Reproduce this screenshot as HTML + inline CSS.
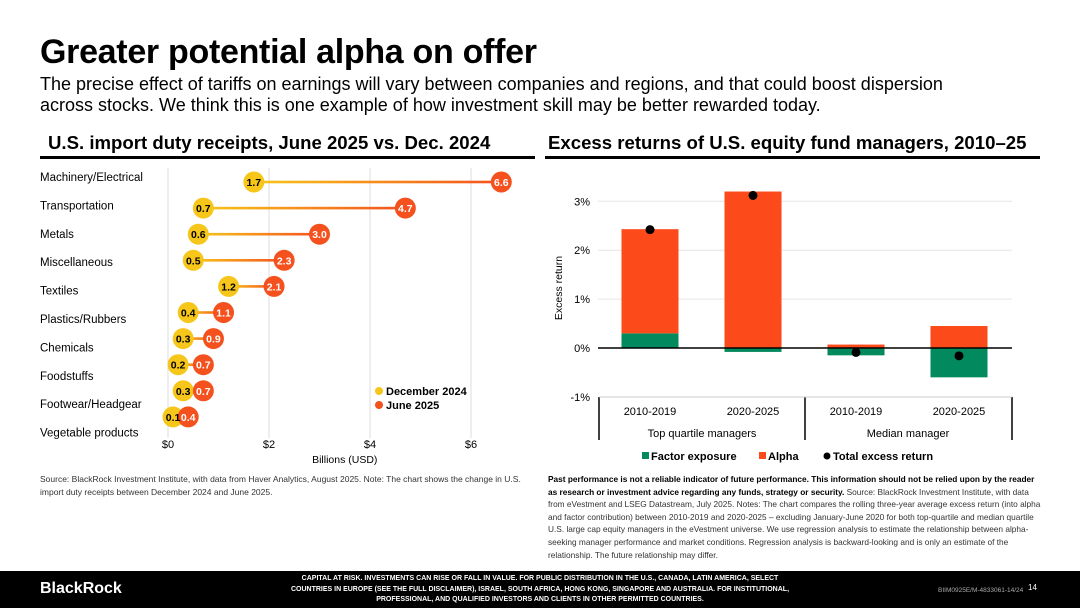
<!DOCTYPE html>
<html><head><meta charset="utf-8"><style>
body{margin:0;width:1080px;height:608px;overflow:hidden;background:#fff;font-family:"Liberation Sans",sans-serif;color:#000;position:relative}
.a{position:absolute;white-space:nowrap}
</style></head><body>
<div class="a" style="left:40px;top:33px;font-size:34px;font-weight:bold;letter-spacing:-0.3px">Greater potential alpha on offer</div>
<div class="a" style="left:40px;top:74px;font-size:18px;line-height:21px;white-space:normal;width:945px">The precise effect of tariffs on earnings will vary between companies and regions, and that could boost dispersion across stocks. We think this is one example of how investment skill may be better rewarded today.</div>
<div class="a" style="left:48px;top:132px;font-size:18.6px;font-weight:bold">U.S. import duty receipts, June 2025 vs. Dec. 2024</div>
<div class="a" style="left:40px;top:156px;width:495px;height:3px;background:#000"></div>
<div class="a" style="left:548px;top:132px;font-size:18.6px;font-weight:bold">Excess returns of U.S. equity fund managers, 2010–25</div>
<div class="a" style="left:545px;top:156px;width:495px;height:3px;background:#000"></div>

<svg class="a" style="left:0;top:0" width="1080" height="608">
<defs id="defs"></defs>
<g id="left"></g><g id="right"></g>
</svg>

<div class="a" style="left:40px;top:473px;font-size:8.5px;line-height:13px;color:#333;white-space:normal;width:500px">Source: BlackRock Investment Institute, with data from Haver Analytics, August 2025. Note: The chart shows the change in U.S. import duty receipts between December 2024 and June 2025.</div>
<div class="a" style="left:548px;top:473px;font-size:8.3px;line-height:12.6px;color:#333;white-space:normal;width:495px"><b style="color:#000">Past performance is not a reliable indicator of future performance. This information should not be relied upon by the reader as research or investment advice regarding any funds, strategy or security.</b> Source: BlackRock Investment Institute, with data from eVestment and LSEG Datastream, July 2025. Notes: The chart compares the rolling three-year average excess return (into alpha and factor contribution) between 2010-2019 and 2020-2025 – excluding January-June 2020 for both top-quartile and median quartile U.S. large cap equity managers in the eVestment universe. We use regression analysis to estimate the relationship between alpha-seeking manager performance and market conditions. Regression analysis is backward-looking and is only an estimate of the relationship. The future relationship may differ.</div>
<div class="a" style="left:0;top:571px;width:1080px;height:37px;background:#000"></div>
<div class="a" style="left:40px;top:580px;color:#fff;font-size:16px;font-weight:bold">BlackRock</div>
<div class="a" style="left:290px;top:574px;width:500px;color:#fff;font-size:7px;line-height:10.5px;font-weight:bold;text-align:center;white-space:normal">CAPITAL AT RISK. INVESTMENTS CAN RISE OR FALL IN VALUE. FOR PUBLIC DISTRIBUTION IN THE U.S., CANADA, LATIN AMERICA, SELECT COUNTRIES IN EUROPE (SEE THE FULL DISCLAIMER), ISRAEL, SOUTH AFRICA, HONG KONG, SINGAPORE AND AUSTRALIA. FOR INSTITUTIONAL, PROFESSIONAL, AND QUALIFIED INVESTORS AND CLIENTS IN OTHER PERMITTED COUNTRIES.</div>
<div class="a" style="left:938px;top:587px;color:#aaa;font-size:6.5px">BIIM0925E/M-4833061-14/24</div>
<div class="a" style="left:1028px;top:583px;color:#fff;font-size:8px">14</div>

<script>
const NS="http://www.w3.org/2000/svg";
function mk(p,t,a,txt){const e=document.createElementNS(NS,t);for(const k in a)e.setAttribute(k,a[k]);if(txt!==undefined)e.textContent=txt;p.appendChild(e);return e;}
// Left chart data
const cats=["Machinery/Electrical","Transportation","Metals","Miscellaneous","Textiles","Plastics/Rubbers","Chemicals","Foodstuffs","Footwear/Headgear","Vegetable products"];
const dec2024=[1.7,0.7,0.6,0.5,1.2,0.4,0.3,0.2,0.3,0.1];
const jun2025=[6.6,4.7,3.0,2.3,2.1,1.1,0.9,0.7,0.7,0.4];
const xTicks=[0,2,4,6];
// Right chart data
const periods=["2010-2019","2020-2025","2010-2019","2020-2025"];
const groups=["Top quartile managers","Median manager"];
const factor=[0.3,-0.08,-0.15,-0.6];
const alpha=[2.13,3.2,0.07,0.45];
const total=[2.42,3.12,-0.09,-0.16];
const yTicks=[-1,0,1,2,3];

const D=document.getElementById('defs');
const L=document.getElementById('left');
const xs=v=>168+v*50.5, ys=i=>182+i*26.1;
xTicks.forEach(t=>{
 const l=mk(L,'line',{x1:xs(t),x2:xs(t),y1:168,y2:438,stroke:'#ddd','stroke-width':1});
 
 const tx=mk(L,'text',{x:xs(t),y:448,'font-size':11,'text-anchor':'middle'},'$'+t);
 
});
const xt=mk(L,'text',{x:xs(3.5),y:463,'font-size':10.5,'text-anchor':'middle'},'Billions (USD)');

cats.forEach((c,i)=>{
 const t=mk(L,'text',{x:40,y:181+i*28.4,'font-size':11.5},c);
 
 const y=ys(i);
 const g=mk(D,'linearGradient',{id:'g'+i,gradientUnits:'userSpaceOnUse',x1:xs(dec2024[i]),x2:xs(jun2025[i]),y1:0,y2:0});
 mk(g,'stop',{offset:0,'stop-color':'#f7c61a'});mk(g,'stop',{offset:1,'stop-color':'#f4511e'});
 const ln=mk(L,'rect',{x:xs(dec2024[i]),y:y-1.3,width:xs(jun2025[i])-xs(dec2024[i]),height:2.6,fill:'url(#g'+i+')'});
 
 const d=mk(L,'circle',{cx:xs(dec2024[i]),cy:y,r:10.5,fill:'#f7c61a'});
 
 const j=mk(L,'circle',{cx:xs(jun2025[i]),cy:y,r:10.5,fill:'#f4511e'});
 
 const dt=mk(L,'text',{x:xs(dec2024[i]),y:y+4,'font-size':10.5,'font-weight':'bold','text-anchor':'middle'},dec2024[i].toFixed(1));
 
 const jt=mk(L,'text',{x:xs(jun2025[i]),y:y+4,'font-size':10.5,'font-weight':'bold','text-anchor':'middle',fill:'#fff'},jun2025[i].toFixed(1));
 
});
[['December 2024','#f7c61a',391],['June 2025','#f4511e',405]].forEach(a=>{
 const c=mk(L,'circle',{cx:379,cy:a[2],r:4,fill:a[1]});
 
 const t=mk(L,'text',{x:386,y:a[2]+4,'font-size':11,'font-weight':'bold'},a[0]);
 
});

const R=document.getElementById('right');
const yv=v=>348-v*48.9;
const bx=i=>650+i*103;
yTicks.forEach(t=>{
 if(t!==0&&t!==-1){const g=mk(R,'line',{x1:598,x2:1012,y1:yv(t),y2:yv(t),stroke:'#e6e6e6'});
 }
 const tx=mk(R,'text',{x:590,y:yv(t)+4,'font-size':11,'text-anchor':'end'},t+'%');
 
});
const yt=mk(R,'text',{x:562,y:288,'font-size':10.5,'text-anchor':'middle',transform:'rotate(-90 562 288)'},'Excess return');

periods.forEach((p,i)=>{
 const f=factor[i], a=alpha[i];
 const fb=mk(R,'rect',{x:bx(i)-28.5,y:Math.min(yv(0),yv(f)),width:57,height:Math.abs(yv(f)-yv(0)),fill:'#03895e'});
 
 const base=f>0?f:0;
 const ab=mk(R,'rect',{x:bx(i)-28.5,y:yv(base+a),width:57,height:yv(base)-yv(base+a),fill:'#fd4a1a'});
 
 const tl=mk(R,'text',{x:bx(i),y:415,'font-size':11,'text-anchor':'middle'},p);
 
});
const z=mk(R,'line',{x1:598,x2:1012,y1:yv(0),y2:yv(0),stroke:'#000','stroke-width':1.5});

total.forEach((v,i)=>{
 const c=mk(R,'circle',{cx:bx(i),cy:yv(v),r:4.5,fill:'#000'});
 
});
[599,805,1012].forEach(x=>{const l=mk(R,'line',{x1:x,x2:x,y1:397,y2:440,stroke:'#000','stroke-width':1.5});
 });
const ab=mk(R,'line',{x1:599,x2:1012,y1:397,y2:397,stroke:'#ccc'});

groups.forEach((g,i)=>{const t=mk(R,'text',{x:[702,908][i],y:437,'font-size':11,'text-anchor':'middle'},g);
 });
const r1=mk(R,'rect',{x:642,y:452,width:7,height:7,fill:'#03895e'});
const t1=mk(R,'text',{x:651,y:460,'font-size':11,'font-weight':'bold'},'Factor exposure');
const r2=mk(R,'rect',{x:759,y:452,width:7,height:7,fill:'#fd4a1a'});
const t2=mk(R,'text',{x:768,y:460,'font-size':11,'font-weight':'bold'},'Alpha');
const c3=mk(R,'circle',{cx:827,cy:456,r:3.5,fill:'#000'});
const t3=mk(R,'text',{x:833,y:460,'font-size':11,'font-weight':'bold'},'Total excess return');
</script>
</body></html>
